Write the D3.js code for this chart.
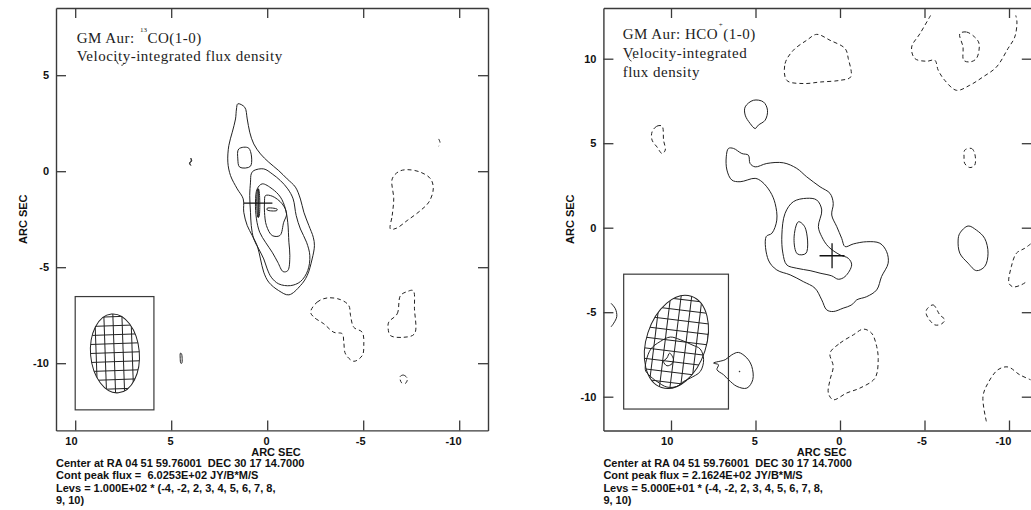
<!DOCTYPE html>
<html>
<head>
<meta charset="utf-8">
<script src="https://cdn.jsdelivr.net/npm/d3@7"></script>
<style>
  body { margin: 0; background: #fff; }
  svg { display: block; }
  .lab { font-family: "Liberation Sans", Arial, Helvetica, sans-serif; font-weight: bold; font-size: 11px; fill: #111; }
  .ttl { font-family: "Liberation Serif", "Times New Roman", serif; font-size: 15px; letter-spacing: 0.5px; fill: #222; }
  .info { white-space: pre; }
</style>
</head>
<body>
<svg id="chart" width="1031" height="510"></svg>
<script>
// ---------- shared axis data (arcsec offsets) ----------
const xTickVals = [10, 5, 0, -5, -10];
const coYTicks = [5, 0, -5, -10];
const hcoYTicks = [10, 5, 0, -5, -10];
const crossPos = [0.47, -1.66];      // continuum peak marker
const crossHalf = 0.74;

// ---------- 13CO(1-0) contours: [x, y] in arcsec ----------
const co_p2_main = [[1.53,3.51],[1.17,3.33],[1.04,2.72],[0.91,2.03],[0.70,1.42],[0.35,0.90],[-0.08,0.47],[-0.60,0.03],[-1.04,-0.40],[-1.47,-0.83],[-1.73,-1.45],[-1.91,-2.14],[-2.17,-2.83],[-2.40,-3.44],[-2.46,-3.88],[-2.34,-4.57],[-2.08,-5.44],[-1.73,-5.96],[-1.13,-6.44],[-0.60,-6.22],[-0.08,-5.78],[0.18,-5.26],[0.35,-4.57],[0.52,-3.88],[0.78,-3.35],[1.04,-2.83],[1.22,-2.14],[1.25,-1.44],[1.56,-0.92],[1.91,-0.23],[2.05,0.47],[2.00,1.33],[1.82,2.03],[1.65,2.72],[1.60,3.24]];
const co_p3_knot = [[1.48,1.16],[0.96,1.20],[0.87,0.26],[1.43,0.21],[1.53,0.64]];
const co_p3 = [[0.70,0.03],[0.18,0.12],[-0.26,-0.14],[-0.69,-0.49],[-1.07,-0.92],[-1.35,-1.44],[-1.51,-2.31],[-1.73,-3.01],[-2.05,-3.70],[-2.22,-4.40],[-2.11,-5.18],[-1.73,-5.75],[-1.21,-5.96],[-0.60,-5.87],[-0.21,-5.52],[0.00,-5.09],[0.18,-4.57],[0.44,-4.05],[0.70,-3.53],[0.83,-2.83],[0.87,-2.14],[0.91,-1.27],[0.87,-0.57],[0.83,-0.14]];
const co_p4 = [[0.52,-0.92],[0.26,-0.66],[-0.26,-0.92],[-0.69,-1.35],[-0.95,-1.96],[-1.07,-2.66],[-1.13,-3.70],[-1.18,-4.40],[-1.07,-5.18],[-0.83,-5.23],[-0.55,-4.74],[-0.26,-4.22],[0.09,-3.70],[0.39,-3.18],[0.56,-2.48],[0.61,-1.61]];
const co_p5 = [[0.09,-1.27],[-0.26,-1.30],[-0.78,-1.70],[-1.01,-2.22],[-0.86,-2.66],[-0.66,-3.35],[-0.26,-3.35],[0.04,-2.83],[0.14,-2.14],[0.14,-1.61]];
const co_p6_bar = [[0.50,-0.95],[0.45,-0.93],[0.43,-2.38],[0.48,-2.40]];
const co_p6_dash = [[0.00,-1.93],[-0.52,-1.98],[-0.50,-2.05],[0.00,-2.02]];
const co_p2_speckA = [[3.98,0.68],[3.93,0.53],[4.03,0.43],[3.98,0.30],[4.05,0.42],[3.96,0.55]];
const co_p2_speckB = [[4.52,-9.48],[4.47,-9.50],[4.43,-9.75],[4.45,-10.00],[4.50,-10.00],[4.53,-9.75]];
const co_n2_west = [[-6.42,-3.01],[-6.51,-2.31],[-6.59,-1.44],[-6.51,-0.40],[-6.85,-0.02],[-7.29,0.08],[-7.98,-0.05],[-8.51,-0.40],[-8.65,-0.92],[-8.42,-1.61],[-7.98,-2.05],[-7.29,-2.57],[-6.73,-2.97]];
const co_n2_south = [[-2.26,-7.34],[-2.60,-6.82],[-3.13,-6.60],[-3.82,-6.69],[-4.25,-7.00],[-4.34,-7.52],[-4.51,-8.13],[-4.95,-8.39],[-5.03,-9.08],[-4.95,-9.60],[-4.51,-9.90],[-4.08,-9.52],[-3.99,-8.91],[-3.91,-8.47],[-3.47,-8.39],[-2.95,-7.95],[-2.43,-7.60]];
const co_n2_sw = [[-6.33,-7.86],[-6.77,-7.43],[-6.94,-6.48],[-7.29,-6.27],[-7.60,-6.22],[-7.67,-7.17],[-7.67,-8.47],[-7.11,-8.65],[-6.42,-8.56],[-6.30,-8.21]];
const co_n2_dot = [[-6.92,-10.70],[-7.10,-10.62],[-7.30,-10.80],[-7.20,-11.05],[-7.00,-11.02]];
const co_n2_nw = [[-8.93,1.68],[-9.00,1.50],[-8.93,1.30]];
const co_n2_ne = [[7.85,5.75],[7.75,5.58],[7.55,5.52],[7.40,5.68]];

// ---------- HCO+(1-0) contours: [x, y] in arcsec ----------
const hco_p2_main = [[6.60,4.69],[6.30,4.69],[5.81,4.39],[5.42,4.29],[5.32,3.80],[5.02,3.60],[4.33,3.80],[3.35,3.84],[2.56,3.51],[1.97,3.01],[1.18,2.42],[0.59,2.03],[0.40,1.44],[0.49,0.75],[0.19,0.06],[-0.10,-0.63],[-0.30,-1.12],[-0.79,-0.96],[-1.58,-0.83],[-2.36,-0.92],[-2.76,-1.42],[-2.85,-2.10],[-2.46,-2.89],[-2.17,-3.68],[-1.58,-4.08],[-0.99,-4.27],[-0.69,-4.57],[-0.19,-4.76],[0.40,-4.96],[0.79,-4.86],[1.08,-4.27],[1.48,-3.58],[2.17,-3.19],[2.95,-2.79],[3.74,-2.50],[4.24,-1.91],[4.37,-0.53],[4.03,-0.33],[3.74,0.45],[3.84,1.44],[4.13,2.13],[4.62,2.72],[5.02,2.92],[5.91,2.72],[6.40,2.82],[6.69,3.41],[6.73,4.19]];
const hco_p3 = [[3.44,-0.43],[3.25,0.85],[2.76,1.54],[1.97,1.74],[1.38,1.64],[1.08,1.05],[1.28,0.06],[1.08,-0.53],[0.69,-1.12],[0.00,-1.61],[-0.49,-1.81],[-0.69,-2.20],[-0.30,-2.89],[0.10,-3.05],[0.49,-2.85],[1.18,-2.69],[1.77,-2.54],[2.56,-2.40],[3.15,-2.20],[3.38,-1.51]];
const hco_p4 = [[2.46,0.35],[2.07,0.02],[2.01,-1.51],[2.52,-1.55],[2.72,-0.63]];
const hco_p2_north = [[5.61,7.15],[5.12,7.54],[4.53,7.44],[4.29,6.95],[4.43,6.36],[4.83,6.07],[5.02,5.87],[5.32,6.17],[5.61,6.66]];
const hco_p2_west = [[-7.09,-0.33],[-7.58,0.10],[-8.07,-0.14],[-8.56,-0.63],[-8.76,-1.51],[-8.56,-2.30],[-8.07,-2.54],[-7.58,-2.10],[-7.09,-1.51],[-6.99,-0.73]];
const hco_p2_edge = [[13.55,-4.47],[13.29,-4.80],[13.21,-5.26],[13.39,-5.65],[13.55,-5.87]];
const hco_p2_south = [[7.48,-8.01],[7.19,-8.11],[7.28,-8.40],[6.89,-8.70],[6.60,-8.99],[6.10,-9.39],[5.51,-9.49],[5.16,-8.99],[5.22,-8.21],[5.51,-7.71],[6.01,-7.38],[6.40,-7.52],[6.79,-7.81]];
const hco_p2_dot = [[5.96,-8.49],[5.93,-8.49],[5.93,-8.53],[5.96,-8.53]];
const hco_p2_beam = [[11.52,-8.40],[11.22,-7.22],[10.63,-6.73],[10.04,-6.47],[9.45,-6.63],[8.76,-6.93],[8.27,-7.18],[8.07,-7.81],[8.27,-8.51],[8.86,-8.90],[9.26,-9.10],[9.65,-9.39],[10.24,-9.43],[10.83,-9.10],[11.32,-8.70]];
const hco_p3_beam = [[10.44,-7.92],[10.24,-7.71],[10.08,-7.42],[9.85,-7.81],[9.94,-8.05],[10.24,-8.17]];
const hco_n2_east = [[11.12,5.67],[10.83,6.01],[10.53,6.01],[10.44,5.18],[10.34,4.59],[10.53,4.39],[10.83,4.78],[11.12,5.18]];
const hco_n2_north = [[3.15,8.72],[3.25,9.71],[2.76,10.50],[1.97,11.09],[1.38,11.44],[0.59,11.09],[-0.30,10.60],[-0.49,10.01],[-0.63,8.92],[0.00,8.72],[1.18,8.62],[2.17,8.53]];
const hco_n2_nw = [[-5.36,12.56],[-4.73,11.48],[-4.24,10.69],[-4.43,10.01],[-5.12,9.85],[-5.61,9.91],[-5.81,9.32],[-6.20,8.72],[-6.89,8.13],[-7.68,8.43],[-8.46,8.92],[-9.26,9.51],[-9.94,10.60],[-10.34,11.28],[-10.47,12.17],[-10.40,12.56]];
const hco_n2_nw_in = [[-7.09,11.48],[-7.48,11.58],[-7.97,11.28],[-8.23,10.89],[-8.07,10.01],[-7.68,9.81],[-7.32,9.91],[-7.28,10.69]];
const hco_n2_w = [[-7.38,4.59],[-7.78,4.69],[-7.97,4.39],[-7.97,3.70],[-7.68,3.56],[-7.38,3.80],[-7.34,4.19]];
const hco_n2_edge = [[-11.28,-0.96],[-10.93,-1.22],[-10.44,-1.51],[-10.14,-2.30],[-10.00,-3.28],[-10.24,-3.50],[-10.73,-3.38],[-11.10,-3.15]];
const hco_n2_sw1 = [[-5.12,-4.86],[-5.51,-4.57],[-5.91,-5.16],[-6.20,-5.45],[-6.01,-5.69],[-5.61,-5.75],[-5.12,-5.16]];
const hco_n2_south = [[0.59,-7.42],[0.00,-6.83],[-0.79,-6.34],[-1.38,-6.00],[-1.87,-6.24],[-2.17,-7.03],[-2.26,-7.81],[-2.07,-8.90],[-1.18,-9.49],[-0.40,-9.78],[0.40,-10.18],[0.69,-9.78],[0.59,-9.00],[0.40,-8.21]];
const hco_n2_sw2 = [[-8.66,-11.46],[-8.46,-9.98],[-8.76,-9.19],[-9.35,-8.40],[-9.94,-8.24],[-10.63,-8.70],[-11.28,-9.00]];
const hco_n2_ne = [[12.50,10.02],[12.35,9.86],[12.20,10.05]];

// ---------- restoring beams: [x, y, major, minor, PA] ----------
const coBeam = [7.93, -9.49, 4.12, 2.54, 5];
const hcoBeam = [9.68, -6.76, 5.68, 3.54, -18];
const coBeamBox = [10.0, 5.9, -6.53, -12.43];   // x-left, x-right, y-top, y-bottom
const hcoBeamBox = [12.8, 6.6, -2.75, -10.73];

// ---------- text ----------
const coTitle = ["GM Aur: ", "13", "CO(1-0)"];
const coSubtitle = ["Velocity-integrated flux density"];
const hcoTitle = ["GM Aur: HCO", "+", "(1-0)"];
const hcoSubtitle = ["Velocity-integrated", "flux density"];
const coInfo = ["Center at RA 04 51 59.76001  DEC 30 17 14.7000", "Cont peak flux =  6.0253E+02 JY/B*M/S", "Levs = 1.000E+02 * (-4, -2, 2, 3, 4, 5, 6, 7, 8,", "9, 10)"];
const hcoInfo = ["Center at RA 04 51 59.76001  DEC 30 17 14.7000", "Cont peak flux = 2.1624E+02 JY/B*M/S", "Levs = 5.000E+01 * (-4, -2, 2, 3, 4, 5, 6, 7, 8,", "9, 10)"];
const axisName = "ARC SEC";

// contour tables: [level, points, closed]
const coContours = [
  [2, co_p2_main, true], [3, co_p3_knot, true], [3, co_p3, true], [4, co_p4, true], [5, co_p5, true],
  [6, co_p6_bar, true], [6, co_p6_dash, true], [2, co_p2_speckA, true], [2, co_p2_speckB, true],
  [-2, co_n2_west, true], [-2, co_n2_south, true], [-2, co_n2_sw, true], [-2, co_n2_dot, true],
  [-2, co_n2_nw, false], [-2, co_n2_ne, false]
];
const hcoContours = [
  [2, hco_p2_main, true], [3, hco_p3, true], [4, hco_p4, true], [2, hco_p2_north, true], [2, hco_p2_west, true],
  [2, hco_p2_edge, false], [2, hco_p2_south, true], [2, hco_p2_dot, true], [2, hco_p2_beam, true], [3, hco_p3_beam, true],
  [-2, hco_n2_east, true], [-2, hco_n2_north, true], [-2, hco_n2_nw, false], [-2, hco_n2_nw_in, true],
  [-2, hco_n2_w, true], [-2, hco_n2_edge, false], [-2, hco_n2_sw1, true], [-2, hco_n2_south, true],
  [-2, hco_n2_sw2, false], [-2, hco_n2_ne, false]
];

const svg = d3.select("#chart");
const defs = svg.append("defs");
const INK = "#222", FRAME = "#3a3a3a";

function drawPanel(p) {
  const x = d3.scaleLinear().domain(p.xDomain)
    .range([p.left, p.left + (p.xDomain[0] - p.xDomain[1]) * p.scale]);
  const y = d3.scaleLinear().domain(p.yDomain)
    .range([p.top, p.top + (p.yDomain[0] - p.yDomain[1]) * p.scale]);
  const [X0, X1] = x.range(), [Y0, Y1] = y.range();
  const g = svg.append("g");

  defs.append("clipPath").attr("id", p.id + "-clip")
    .append("rect").attr("x", X0).attr("y", Y0).attr("width", X1 - X0).attr("height", Y1 - Y0);
  const plot = g.append("g").attr("clip-path", `url(#${p.id}-clip)`);

  // beam box and hatched beam ellipse
  const [bl, br, bt, bb] = p.beamBox;
  plot.append("rect")
    .attr("x", x(bl)).attr("y", y(bt))
    .attr("width", x(br) - x(bl)).attr("height", y(bb) - y(bt))
    .attr("fill", "#fff").attr("stroke", FRAME).attr("stroke-width", 1.2);

  const [bx, by, bmaj, bmin, bpa] = p.beam;
  const cx = x(bx), cy = y(by);
  const rx = Math.abs(x(bmin / 2) - x(0)), ry = Math.abs(y(bmaj / 2) - y(0));
  const rot = `rotate(${-bpa},${cx},${cy})`;
  defs.append("clipPath").attr("id", p.id + "-beam")
    .append("ellipse").attr("cx", cx).attr("cy", cy).attr("rx", rx).attr("ry", ry).attr("transform", rot);
  const hatch = plot.append("g").attr("clip-path", `url(#${p.id}-beam)`)
    .append("g").attr("transform", `rotate(${p.hatchAngle},${cx},${cy})`);
  const step = p.hatchStep * p.scale, R = ry + step * 2;
  d3.range(-R + p.hatchOffset * step, R, step).forEach(k => {
    hatch.append("line").attr("x1", cx + k).attr("x2", cx + k).attr("y1", cy - R).attr("y2", cy + R);
    hatch.append("line").attr("y1", cy + k).attr("y2", cy + k).attr("x1", cx - R).attr("x2", cx + R);
  });
  hatch.selectAll("line").attr("stroke", INK).attr("stroke-width", 1);
  plot.append("ellipse").attr("cx", cx).attr("cy", cy).attr("rx", rx).attr("ry", ry)
    .attr("transform", rot).attr("fill", "none").attr("stroke", INK).attr("stroke-width", 1);

  // contours: solid for positive levels, dashed for negative
  const line = d3.line().x(d => x(d[0])).y(d => y(d[1]));
  p.contours.forEach(([lev, pts, closed]) => {
    line.curve(closed ? d3.curveCatmullRomClosed.alpha(0.5) : d3.curveCatmullRom.alpha(0.5));
    plot.append("path").attr("d", line(pts))
      .attr("fill", "none").attr("stroke", INK).attr("stroke-width", 1)
      .attr("stroke-linejoin", "round")
      .attr("stroke-dasharray", lev < 0 ? "4,3" : null);
  });

  // continuum peak cross
  const [kx, ky] = crossPos;
  plot.append("line").attr("x1", x(kx + crossHalf)).attr("x2", x(kx - crossHalf))
    .attr("y1", y(ky)).attr("y2", y(ky)).attr("stroke", "#111").attr("stroke-width", 1.3);
  plot.append("line").attr("x1", x(kx)).attr("x2", x(kx))
    .attr("y1", y(ky + crossHalf)).attr("y2", y(ky - crossHalf)).attr("stroke", "#111").attr("stroke-width", 1.3);

  // frame with inward ticks on all sides
  const fmt = d => String(d);
  const axes = [
    [d3.axisBottom(x).tickValues(xTickVals).tickFormat(fmt), `translate(0,${Y1})`, "b"],
    [d3.axisTop(x).tickValues(xTickVals).tickFormat(""), `translate(0,${Y0})`, "t"],
    [d3.axisLeft(y).tickValues(p.yTicks).tickFormat(fmt), `translate(${X0},0)`, "l"],
    [d3.axisRight(y).tickValues(p.yTicks).tickFormat(""), `translate(${X1},0)`, "r"]
  ];
  axes.forEach(([ax, tr, side]) => {
    const a = g.append("g").attr("transform", tr)
      .call(ax.tickSize(-10).tickSizeOuter(0).tickPadding(7));
    a.attr("font-family", null).attr("font-size", null);
    a.select(".domain").attr("stroke", FRAME).attr("stroke-width", 1.4);
    a.selectAll(".tick line").attr("stroke", FRAME).attr("stroke-width", 1.3);
    a.selectAll(".tick text").attr("class", "lab").attr("fill", null);
    if (side === "b") a.selectAll(".tick text").attr("text-anchor", "end").attr("x", 1.8);
  });

  // axis names
  g.append("text").attr("class", "lab").attr("text-anchor", "middle")
    .attr("x", (X0 + X1) / 2 + 4).attr("y", Y1 + 25.5).text(axisName);
  g.append("text").attr("class", "lab").attr("text-anchor", "middle")
    .attr("transform", `translate(${X0 - 29.5},${(Y0 + Y1) / 2}) rotate(-90)`).text(axisName);

  // map header
  const t = g.append("text").attr("class", "ttl").attr("x", p.titleX).attr("y", p.titleY);
  t.append("tspan").text(p.title[0]);
  t.append("tspan").attr("font-size", 7).attr("letter-spacing", 0)
    .attr("dx", p.supDx).attr("dy", p.supDy).text(p.title[1]);
  t.append("tspan").attr("dx", p.afterDx).attr("dy", -p.supDy).text(p.title[2]);
  p.subtitle.forEach((s, i) => {
    g.append("text").attr("class", "ttl").attr("x", p.titleX)
      .attr("y", p.titleY + p.titleGap * (i + 1)).text(s);
  });

  // footer
  p.info.forEach((s, i) => {
    g.append("text").attr("class", "lab info").attr("x", X0)
      .attr("y", 467 + 12.3 * i).text(s);
  });
}

drawPanel({
  id: "co", left: 56, top: 8, scale: 19.2,
  xDomain: [11, -11.5], yDomain: [8.5, -13.5],
  yTicks: coYTicks, contours: coContours,
  beam: coBeam, beamBox: coBeamBox, hatchStep: 0.47, hatchAngle: -2, hatchOffset: 0.3,
  title: coTitle, subtitle: coSubtitle, info: coInfo,
  titleX: 76.7, titleY: 42.7, titleGap: 18.5, supDx: 1, supDy: -11, afterDx: 0.5
});

drawPanel({
  id: "hco", left: 603.4, top: 8, scale: 16.9,
  xDomain: [14, -11.35], yDomain: [13, -12],
  yTicks: hcoYTicks, contours: hcoContours,
  beam: hcoBeam, beamBox: hcoBeamBox, hatchStep: 0.62, hatchAngle: 7, hatchOffset: 0.5,
  title: hcoTitle, subtitle: hcoSubtitle, info: hcoInfo,
  titleX: 622.7, titleY: 39.3, titleGap: 19, supDx: 0.5, supDy: -12, afterDx: 0.5
});
</script>
</body>
</html>
